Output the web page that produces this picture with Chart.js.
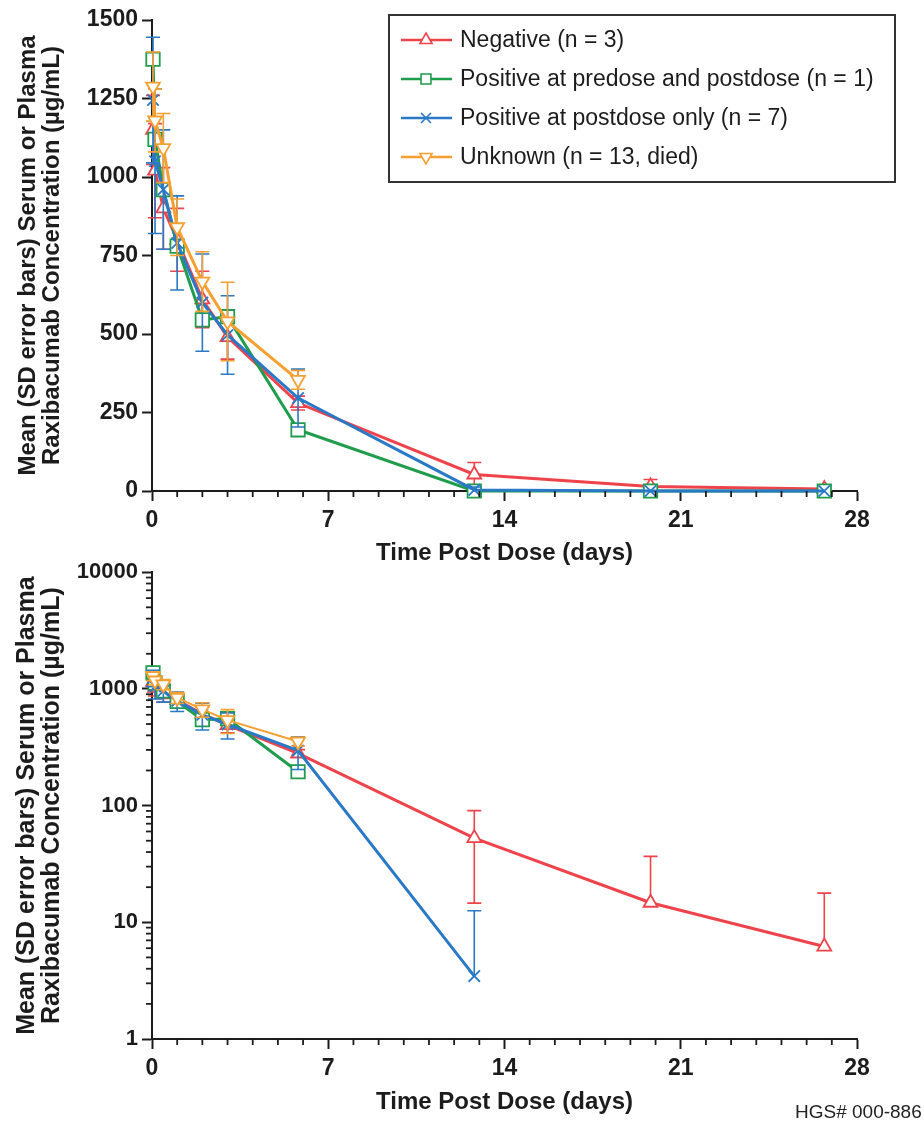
<!DOCTYPE html>
<html>
<head>
<meta charset="utf-8">
<script src="https://cdn.jsdelivr.net/npm/chart.js@4.4.1/dist/chart.umd.min.js"></script>
<style>
  body { margin: 0; background: #fff; }
  #wrap { position: relative; width: 924px; height: 1124px; overflow: hidden; background: #fff; }
  canvas { position: absolute; left: 0; }
  #c1 { top: 0; }
  #c2 { top: 555px; }
  #code { position: absolute; left: 795px; top: 1101px; font: 19px "Liberation Sans", Arial, sans-serif; white-space: nowrap; color: #222; }
</style>
</head>
<body>
<div id="wrap">
  <canvas id="c1" width="924" height="570"></canvas>
  <canvas id="c2" width="924" height="569"></canvas>
  <div id="code">HGS# 000-886</div>
</div>
<script>
// sampling times (days post dose)
const timeDays = [0.04, 0.12, 0.45, 1, 2, 3, 5.8, 12.8, 19.8, 26.7];

// Negative (n = 3)
const negMean = [1150, 1020, 900, 800, 610, 490, 280, 52.6, 14.7, 6.2];
const negSD   = [110, 150, 130, 100, 90, 70, 22, 38, 22, 11.6];
// Positive at predose and postdose (n = 1), no SD
const bothMean = [1375, 1120, 960, 780, 545, 555, 195, 0, 0, 0];
// Positive at postdose only (n = 7)
const postMean = [1245, 1050, 960, 790, 600, 497, 296, 3.46, 0, 0];
const postSD   = [200, 230, 190, 150, 155, 125, 92, 9.1, 0, 0];
// Unknown (n = 13, died)
const unkMean = [1288, 1180, 1092, 840, 667, 540, 354, null, null, null];
const unkSD   = [110, 100, 110, 90, 95, 125, 30, null, null, null];

const legendLabels = ['Negative (n = 3)', 'Positive at predose and postdose (n = 1)',
                      'Positive at postdose only (n = 7)', 'Unknown (n = 13, died)'];
const dayLabels = [0, 7, 14, 21, 28];
const linTicks = [0, 250, 500, 750, 1000, 1250, 1500];
const logLabels = [1, 10, 100, 1000, 10000];
const yTitle = ['Mean (SD error bars) Serum or Plasma', 'Raxibacumab Concentration (\u00b5g/mL)'];

const COLORS = ['#ef434b', '#1f9c4c', '#2a79c6', '#f6a032'];
const STYLES = [['triangle', 0], ['rect', 0], ['crossRot', 0], ['triangle', 180]];
const RADII = [8, 9.5, 8, 8];
const AXIS = '#1c1c1c';
const FONT = '"Liberation Sans", Arial, Helvetica, sans-serif';
Chart.defaults.font.family = FONT;
Chart.defaults.color = '#1c1c1c';

const dayTicks = [];
for (let d = 0; d <= 28; d++) dayTicks.push(d);
const logTicks = [];
logLabels.slice(0, -1).forEach((p) => { for (let m = 1; m < 10; m++) logTicks.push(p * m); });
logTicks.push(10000);

function makeSets(log) {
  const means = [negMean, bothMean, postMean, unkMean];
  const sds = [negSD, null, postSD, unkSD];
  return means.map((m, k) => ({
    label: legendLabels[k],
    data: timeDays.map((t, i) => ({ x: t, y: (m[i] == null || (log && !(m[i] > 0))) ? null : m[i] })),
    sd: sds[k],
    borderColor: COLORS[k],
    backgroundColor: '#fff',
    borderWidth: log && k === 3 ? 2 : 3,
    pointStyle: STYLES[k][0],
    pointRotation: STYLES[k][1],
    pointRadius: RADII[k],
    pointBorderWidth: 1.8,
    pointBackgroundColor: '#fff',
    pointBorderColor: COLORS[k],
    tension: 0,
    spanGaps: false,
    clip: false,
    order: 4 - k,
  }));
}

// SD error bars, drawn under each dataset's line
const errorBars = {
  id: 'errorBars',
  beforeDatasetDraw(chart, args) {
    const ds = chart.data.datasets[args.index];
    if (!ds.sd) return;
    const xs = chart.scales.x, ys = chart.scales.y, ctx = chart.ctx, a = chart.chartArea;
    ctx.save();
    ctx.beginPath();
    ctx.rect(a.left - 12, a.top - 4, a.right - a.left + 24, a.bottom - a.top + 4);
    ctx.clip();
    ctx.strokeStyle = ds.borderColor;
    ctx.lineWidth = 1.6;
    ds.data.forEach((p, i) => {
      const sd = ds.sd[i];
      if (p.y == null || !sd) return;
      const px = xs.getPixelForValue(p.x);
      const mid = ys.getPixelForValue(p.y);
      const hi = ys.getPixelForValue(p.y + sd);
      const lo = p.y - sd > ys.min ? ys.getPixelForValue(p.y - sd) : null;
      ctx.beginPath();
      ctx.moveTo(px, lo == null ? mid : lo);
      ctx.lineTo(px, hi);
      ctx.moveTo(px - 7, hi); ctx.lineTo(px + 7, hi);
      if (lo != null) { ctx.moveTo(px - 7, lo); ctx.lineTo(px + 7, lo); }
      ctx.stroke();
    });
    ctx.restore();
  },
};

// short unlabeled ticks
const minorTicks = {
  id: 'minorTicks',
  afterDraw(chart) {
    const ctx = chart.ctx;
    ctx.save();
    ctx.strokeStyle = AXIS;
    ctx.lineWidth = 1.8;
    Object.values(chart.scales).forEach((s) => {
      s.ticks.forEach((t) => {
        if (t.label !== '') return;
        const p = s.getPixelForValue(t.value);
        ctx.beginPath();
        if (s.isHorizontal()) { ctx.moveTo(p, s.top); ctx.lineTo(p, s.top + 6); }
        else { ctx.moveTo(s.right, p); ctx.lineTo(s.right - 6, p); }
        ctx.stroke();
      });
    });
    ctx.restore();
  },
};

const legendBox = {
  id: 'legendBox',
  afterDraw(chart) {
    const ctx = chart.ctx;
    ctx.save();
    ctx.lineWidth = 2;
    ctx.strokeStyle = '#333';
    ctx.strokeRect(389, 15, 506, 167);
    ctx.font = '23px ' + FONT;
    ctx.textBaseline = 'middle';
    legendLabels.forEach((lab, k) => {
      const y = 40 + k * 39;
      ctx.strokeStyle = COLORS[k];
      ctx.lineWidth = 2.5;
      ctx.beginPath(); ctx.moveTo(401, y); ctx.lineTo(452, y); ctx.stroke();
      ctx.fillStyle = '#fff';
      ctx.lineWidth = 1.6;
      Chart.helpers.drawPoint(ctx, { pointStyle: STYLES[k][0], rotation: STYLES[k][1], radius: 7, borderWidth: 1.6 }, 426, y);
      ctx.fillStyle = '#1c1c1c';
      ctx.fillText(lab, 460, y + 1);
    });
    ctx.restore();
  },
};

function xAxis(h, padBottom) {
  return {
    type: 'linear', min: 0, max: 28,
    afterBuildTicks: (s) => { s.ticks = dayTicks.map((v) => ({ value: v })); },
    ticks: { autoSkip: false, maxRotation: 0, padding: 6, font: { size: 23, weight: 'bold' },
             callback: (v) => (dayLabels.includes(v) ? String(v) : '') },
    grid: { drawOnChartArea: false, tickLength: 10, tickWidth: 2,
            tickColor: (c) => (c.tick && dayLabels.includes(c.tick.value) ? AXIS : 'rgba(0,0,0,0)') },
    border: { color: AXIS, width: 2 },
    title: { display: true, text: 'Time Post Dose (days)', font: { size: 24, weight: 'bold' },
             padding: { top: 0, bottom: padBottom } },
    afterFit: (s) => { s.height = h; },
  };
}

function yTitleOpts(size, padTop) {
  return { display: true, text: yTitle, font: { size: size, weight: 'bold', lineHeight: 1.0 },
           padding: { top: padTop, bottom: 0 } };
}

new Chart(document.getElementById('c1'), {
  type: 'line',
  data: { datasets: makeSets(false) },
  options: {
    responsive: false, animation: false,
    layout: { padding: { top: 20, right: 67, left: 0, bottom: 0 } },
    plugins: { legend: { display: false }, tooltip: { enabled: false } },
    scales: {
      x: xAxis(79, 2),
      y: {
        type: 'linear', min: 0, max: 1500,
        afterBuildTicks: (s) => { s.ticks = linTicks.map((v) => ({ value: v })); },
        ticks: { autoSkip: false, padding: 4, font: { size: 23, weight: 'bold' }, callback: (v) => String(v) },
        grid: { drawOnChartArea: false, tickLength: 10, tickWidth: 2, tickColor: AXIS },
        border: { color: AXIS, width: 2 },
        title: yTitleOpts(24, 16),
        afterFit: (s) => { s.width = 152; },
      },
    },
  },
  plugins: [errorBars, minorTicks, legendBox],
});

new Chart(document.getElementById('c2'), {
  type: 'line',
  data: { datasets: makeSets(true) },
  options: {
    responsive: false, animation: false,
    layout: { padding: { top: 17, right: 67, left: 0, bottom: 0 } },
    plugins: { legend: { display: false }, tooltip: { enabled: false } },
    scales: {
      x: xAxis(85, 7),
      y: {
        type: 'logarithmic', min: 1, max: 10000,
        afterBuildTicks: (s) => { s.ticks = logTicks.map((v) => ({ value: v })); },
        ticks: { autoSkip: false, padding: 4, font: { size: 22, weight: 'bold' },
                 callback: (v) => (logLabels.includes(v) ? String(v) : '') },
        grid: { drawOnChartArea: false, tickLength: 10, tickWidth: 2,
                tickColor: (c) => (c.tick && logLabels.includes(c.tick.value) ? AXIS : 'rgba(0,0,0,0)') },
        border: { color: AXIS, width: 2 },
        title: yTitleOpts(25, 15),
        afterFit: (s) => { s.width = 152; },
      },
    },
  },
  plugins: [errorBars, minorTicks],
});
</script>
</body>
</html>
